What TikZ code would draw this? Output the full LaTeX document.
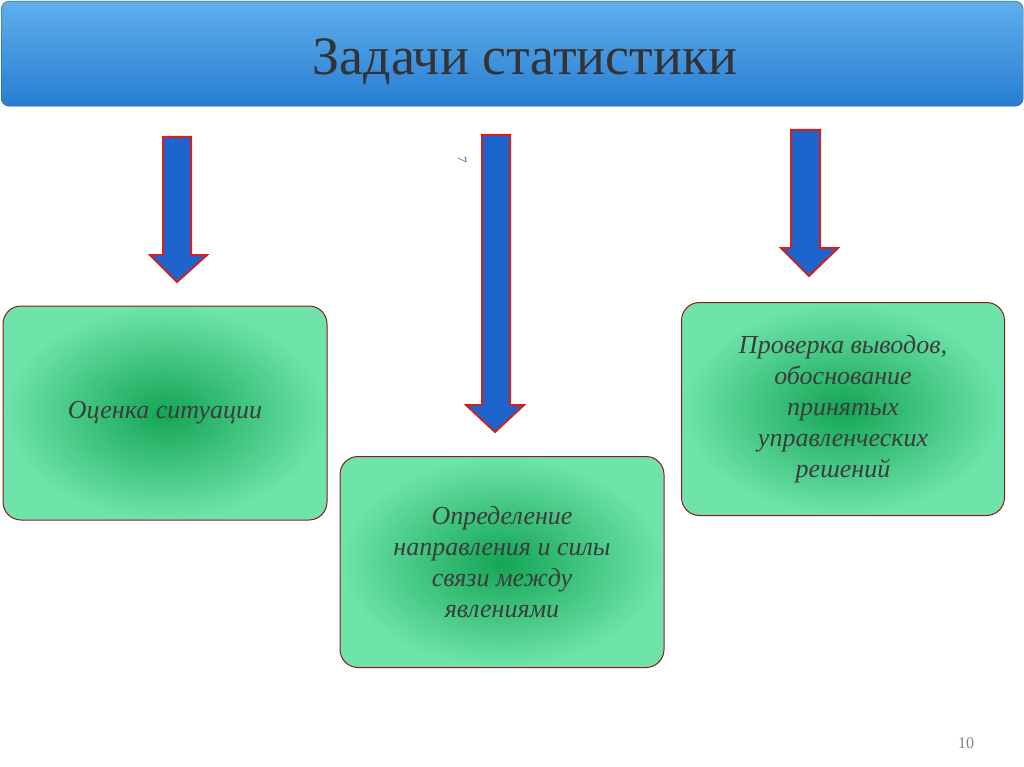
\documentclass[tikz,border=0pt]{standalone}
\usepackage{fontspec}
\setmainfont{Liberation Serif}
\usetikzlibrary{shadings}
\definecolor{arrblue}{RGB}{30,100,205}
\definecolor{arrred}{RGB}{205,35,35}
\definecolor{boxlight}{RGB}{110,228,170}
\definecolor{boxdark}{RGB}{20,165,85}
\definecolor{hdrblue}{RGB}{40,125,210}
\definecolor{hdrlight}{RGB}{95,175,235}
\definecolor{txtgray}{RGB}{60,60,60}
\tikzset{
  taskbox/.style={draw=arrred!70!black, line width=1pt, rounded corners=18pt,
    inner color=boxdark, outer color=boxlight, align=center,
    font=\itshape\fontsize{26}{31}\selectfont, text=txtgray},
  downarrow/.style={draw=arrred, line width=2pt, fill=arrblue, line join=miter}
}
\begin{document}
\begin{tikzpicture}[x=1pt,y=-1pt]
\useasboundingbox (0,0) rectangle (1024,767);
\fill[white] (0,0) rectangle (1024,767);
% header
\node (hdr) [draw=hdrblue!70!black, rounded corners=8pt, top color=hdrlight, bottom color=hdrblue,
  minimum width=1022pt, minimum height=105pt, anchor=north west] at (1,1) {};
\node (title) at (525,62) [text=black!80] {\fontsize{54}{60}\selectfont Задачи статистики};
% arrows
\path[downarrow] (163,137) -- (191,137) -- (191,255) -- (207,255) -- (177,282) -- (150,255) -- (163,255) -- cycle;
\path[downarrow] (482,135) -- (510,135) -- (510,405) -- (524,405) -- (495,432) -- (466,405) -- (482,405) -- cycle;
\path[downarrow] (791,130) -- (820,130) -- (820,248) -- (838,248) -- (809,276) -- (781,248) -- (791,248) -- cycle;
\node (mark) at (462,160) [rotate=-90, text=arrblue, font=\fontsize{13}{14}\selectfont] {7};
% boxes
\node (b1) [taskbox, minimum width=324pt, minimum height=214pt] at (165,413) {Оценка ситуации};
\node (b2) [taskbox, minimum width=324pt, minimum height=211pt] at (502,562)
  {Определение\\направления и силы\\связи между\\явлениями};
\node (b3) [taskbox, minimum width=323pt, minimum height=213pt] at (843,409)
  {Проверка выводов,\\обоснование\\принятых\\управленческих\\решений};
\node (pg) at (966,743) [text=gray, font=\fontsize{16}{18}\selectfont] {10};
\end{tikzpicture}
\end{document}
